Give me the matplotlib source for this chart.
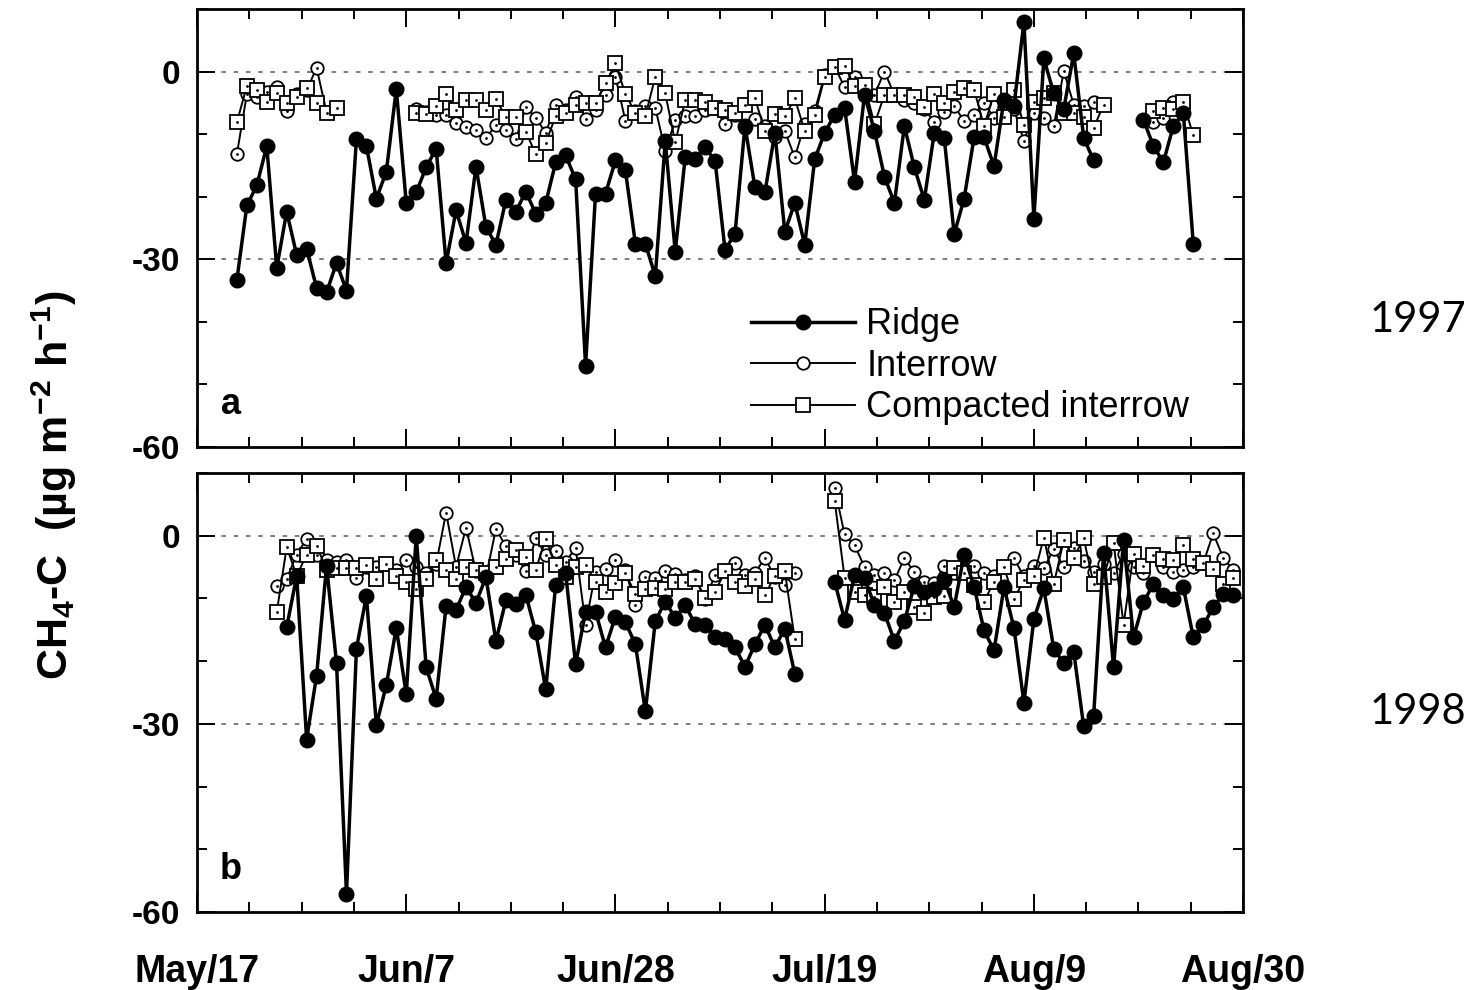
import numpy as np
import matplotlib
matplotlib.use("Agg")
import matplotlib.pyplot as plt
from matplotlib.ticker import MultipleLocator, FixedLocator

plt.rcParams['font.family'] = ['Liberation Sans', 'DejaVu Sans']
plt.rcParams['axes.unicode_minus'] = False
plt.rcParams['mathtext.fontset'] = 'custom'
plt.rcParams['mathtext.rm'] = 'Liberation Sans:bold'
plt.rcParams['mathtext.bf'] = 'Liberation Sans:bold'
plt.rcParams['mathtext.default'] = 'bf'

# days after May 17
tick_days = [0, 21, 42, 63, 84, 105]
tick_labels = ['May/17', 'Jun/7', 'Jun/28', 'Jul/19', 'Aug/9', 'Aug/30']

# ---- 1997 ----
ridge97_days = list(range(4, 91)) + list(range(95, 101))
ridge97 = [-33.3, -21.4, -18.2, -11.9, -31.4, -22.4, -29.3, -28.3, -34.6, -35.3,
           -30.6, -35.0, -10.8, -11.9, -20.3, -16.0, -2.8, -21.0, -19.3, -15.3,
           -12.3, -30.6, -22.2, -27.4, -15.2, -24.8, -27.7, -20.5, -22.4, -19.2,
           -22.7, -21.0, -14.5, -13.4, -17.2, -47.0, -19.5, -19.5, -14.2, -15.8,
           -27.5, -27.5, -32.7, -11.1, -28.8, -13.7, -13.9, -12.1, -14.3, -28.5,
           -25.9, -8.7, -18.5, -19.3, -9.8, -25.6, -21.0, -27.7, -14.0, -9.8,
           -6.9, -5.8, -17.6, -3.7, -9.5, -16.8, -21.0, -8.7, -15.3, -20.5,
           -9.8, -10.6, -26.0, -20.3, -10.5, -10.5, -15.1, -4.5, -5.5, 7.9,
           -23.5, 2.1, -3.5, -6.0, 2.9, -10.6, -14.2,
           -7.7, -11.9, -14.5, -8.7, -6.6, -27.5]

inter97_days = list(range(4, 15)) + list(range(22, 91)) + list(range(96, 100))
inter97 = [-13.2, -3.6, -4.0, -3.3, -2.5, -6.3, -3.6, -3.0, 0.6, -6.5, -5.8,
           -6.0, -6.5, -7.0, -7.0, -8.2, -8.9, -9.4, -10.6, -8.6, -9.4,
           -10.8, -5.6, -7.4, -9.8, -5.3, -6.1, -4.0, -7.6, -6.1, -3.7,
           -0.8, -7.9, -6.3, -5.5, -5.8, -12.7, -7.8, -7.1, -7.1, -6.1,
           -5.9, -8.4, -6.9, -9.0, -7.6, -8.7, -10.5, -9.5, -13.7, -8.4,
           -6.3, -0.5, 0.8, -2.5, -0.8, -3.7, -3.7, 0.0, -3.7, -4.5,
           -5.0, -6.0, -8.0, -6.4, -5.5, -7.9, -6.9, -5.0, -7.4, -5.6,
           -6.0, -11.1, -6.6, -7.4, -8.7, 0.1, -5.3, -5.5, -4.8,
           -8.0, -7.4, -4.8, -5.5]

comp97_days = list(range(4, 15)) + list(range(22, 92)) + list(range(96, 101))
comp97 = [-8.1, -2.3, -3.0, -4.8, -3.5, -5.0, -4.0, -2.6, -5.0, -6.6, -5.8,
          -6.6, -6.8, -5.5, -3.6, -6.1, -4.5, -4.5, -6.2, -4.4, -7.3,
          -7.2, -9.6, -13.2, -11.4, -7.1, -6.6, -5.4, -5.0, -5.0, -1.9,
          1.3, -3.6, -6.6, -7.1, -0.8, -3.5, -11.3, -4.6, -4.6, -4.8,
          -5.9, -6.2, -6.6, -5.4, -4.3, -9.5, -6.8, -7.1, -4.3, -9.5,
          -7.0, -0.9, 0.8, 0.9, -2.3, -2.2, -8.4, -3.7, -3.7, -3.7,
          -4.0, -5.6, -3.6, -5.1, -3.3, -2.6, -2.9, -8.7, -3.6, -7.2,
          -3.0, -8.6, -4.8, -4.2, -3.5, -6.7, -6.7, -7.2, -9.0, -5.3,
          -6.3, -5.8, -6.0, -4.9, -10.2]

# ---- 1998 ----
ridge98_days = list(range(9, 61)) + list(range(64, 105))
ridge98 = [-14.6, -6.4, -32.5, -22.3, -4.8, -20.3, -57.1, -18.0, -9.6, -30.2,
           -23.8, -14.7, -25.3, 0.0, -21.0, -26.0, -11.2, -11.8, -8.2, -10.7,
           -6.6, -16.8, -10.3, -10.9, -9.4, -15.4, -24.5, -7.8, -6.0, -20.5,
           -12.1, -12.1, -17.8, -12.9, -13.8, -17.3, -28.0, -13.6, -10.5, -13.1,
           -11.1, -14.1, -14.3, -16.2, -16.5, -17.8, -20.9, -17.3, -14.2, -17.8,
           -14.8, -22.0,
           -7.3, -13.4, -6.3, -6.7, -11.1, -12.3, -16.8, -13.6, -8.0, -9.0,
           -8.5, -7.0, -11.4, -3.0, -8.2, -15.1, -18.3, -8.2, -14.7, -26.6,
           -13.3, -8.4, -18.1, -20.3, -18.5, -30.4, -28.7, -2.7, -21.0, -0.7,
           -16.2, -10.6, -7.7, -9.5, -10.1, -8.2, -16.2, -14.3, -11.4, -9.3,
           -9.4]

inter98_days = list(range(8, 61)) + list(range(64, 105))
inter98 = [-8.0, -6.9, -3.0, -0.5, -3.0, -3.9, -4.2, -3.9, -6.8, -5.0,
           -5.0, -4.5, -5.5, -3.8, -5.0, -6.0, -4.5, 3.7, -5.0, 1.3,
           -5.7, -6.6, 1.1, -1.7, -3.0, -5.7, -0.4, -3.1, -2.5, -4.2,
           -1.9, -14.2, -5.8, -5.3, -3.9, -5.5, -11.1, -6.6, -6.8, -5.7,
           -6.1, -7.0, -6.5, -10.1, -6.3, -5.5, -4.4, -6.2, -6.0, -3.5,
           -6.6, -7.8, -5.9,
           7.6, 0.2, -1.5, -5.0, -6.2, -5.9, -7.1, -3.6, -5.8, -7.4,
           -7.5, -4.8, -6.0, -5.5, -4.8, -6.0, -6.5, -5.0, -3.6, -6.5,
           -4.8, -5.2, -2.1, -5.0, -2.0, -4.0, -5.8, -4.5, -6.0, -2.9,
           -5.0, -5.9, -3.1, -5.0, -5.8, -5.5, -5.0, -4.4, 0.4, -3.5,
           -5.5]

comp98_days = list(range(8, 61)) + list(range(64, 105))
comp98 = [-12.2, -1.8, -6.4, -3.0, -1.6, -5.4, -5.1, -5.1, -5.1, -4.7,
          -6.9, -4.5, -6.4, -7.3, -8.5, -6.9, -3.9, -5.5, -6.9, -5.0,
          -5.5, -6.0, -5.0, -3.7, -2.2, -3.4, -5.4, -0.5, -4.6, -6.6,
          -5.0, -4.7, -7.3, -8.9, -7.5, -6.0, -9.3, -8.5, -8.4, -8.5,
          -7.4, -7.4, -6.9, -10.0, -8.9, -5.7, -7.4, -8.0, -6.9, -9.5,
          -6.4, -5.7, -16.5,
          5.6, -6.7, -8.9, -9.4, -9.8, -8.2, -10.6, -8.9, -11.3, -12.3,
          -9.8, -9.6, -5.2, -6.0, -7.9, -10.5, -7.3, -5.0, -10.1, -7.1,
          -6.4, -0.3, -7.7, -0.7, -3.5, -0.4, -7.7, -6.6, -1.1, -14.2,
          -2.9, -4.8, -3.1, -3.7, -3.9, -1.4, -3.7, -4.3, -5.3, -7.7,
          -6.7]


def with_gaps(days, vals):
    # break the line where sampling stopped for a few days
    d = np.asarray(days, float)
    v = np.asarray(vals, float)
    cut = np.where(np.diff(d) > 2)[0] + 1
    return np.insert(d, cut, np.nan), np.insert(v, cut, np.nan)


def draw_panel(ax, ridge, inter, comp, letter):
    ax.axhline(0, color='0.35', lw=1.1, ls=(0, (3, 5)), zorder=1)
    ax.axhline(-30, color='0.35', lw=1.1, ls=(0, (3, 5)), zorder=1)

    x, y = with_gaps(*inter)
    ax.plot(x, y, '-', color='black', lw=1.4, marker='o', ms=9,
            mfc='white', mec='black', mew=1.3, zorder=3, label='Interrow')
    ax.plot(x, y, ' ', marker='.', ms=2, color='black', zorder=3.1)
    x, y = with_gaps(*comp)
    ax.plot(x, y, '-', color='black', lw=1.4, marker='s', ms=9.5,
            mfc='white', mec='black', mew=1.3, zorder=4, label='Compacted interrow')
    ax.plot(x, y, ' ', marker='.', ms=2, color='black', zorder=4.1)
    x, y = with_gaps(*ridge)
    ax.plot(x, y, '-', color='black', lw=2.5, marker='o', ms=10.5,
            mfc='black', mec='black', zorder=5, label='Ridge')

    ax.set_xlim(0, 105)
    ax.set_ylim(-60, 10)
    ax.xaxis.set_major_locator(FixedLocator(tick_days))
    ax.xaxis.set_minor_locator(MultipleLocator(5.25))
    ax.yaxis.set_major_locator(FixedLocator([-60, -30, 0]))
    ax.yaxis.set_minor_locator(MultipleLocator(10))
    ax.tick_params(which='both', direction='in', top=True, right=True, width=1.4)
    ax.tick_params(which='major', length=13)
    ax.tick_params(which='minor', length=7)
    ax.tick_params(axis='y', labelsize=24, pad=12)
    for lab in ax.get_yticklabels():
        lab.set_fontweight('bold')
    for s in ax.spines.values():
        s.set_linewidth(2)
    ax.text(0.032, 0.096, letter, transform=ax.transAxes, fontsize=26,
            fontweight='bold', ha='center', va='center')


fig = plt.figure(figsize=(14.76, 9.9), dpi=100)
ax1 = fig.add_axes([0.1335, 0.5485, 0.7087, 0.4424])
ax2 = fig.add_axes([0.1335, 0.0788, 0.7087, 0.4434])

draw_panel(ax1, (ridge97_days, ridge97), (inter97_days, inter97),
           (comp97_days, comp97), 'a')
draw_panel(ax2, (ridge98_days, ridge98), (inter98_days, inter98),
           (comp98_days, comp98), 'b')

ax1.set_xticklabels([])
ax2.set_xticklabels(tick_labels, fontsize=27, fontweight='bold')
ax2.tick_params(axis='x', pad=30)

h, l = ax1.get_legend_handles_labels()
order = [2, 0, 1]
ax1.legend([h[i] for i in order], [l[i] for i in order], loc='lower left',
           bbox_to_anchor=(0.505, -0.008), frameon=False, fontsize=26,
           handlelength=2.9, handletextpad=0.3, labelspacing=0.18,
           borderpad=0.2)

fig.text(0.037, 0.51, r'CH$_4$-C  (µg m$^{-2}$ h$^{-1}$)', rotation=90,
         ha='center', va='center', fontsize=31, fontweight='bold')

fig.text(0.9607, 0.677, '1997', ha='center', va='center', fontsize=30,
         family=['Lato', 'DejaVu Sans'])
fig.text(0.9607, 0.281, '1998', ha='center', va='center', fontsize=30,
         family=['Lato', 'DejaVu Sans'])

fig.savefig('out.png', dpi=100)
